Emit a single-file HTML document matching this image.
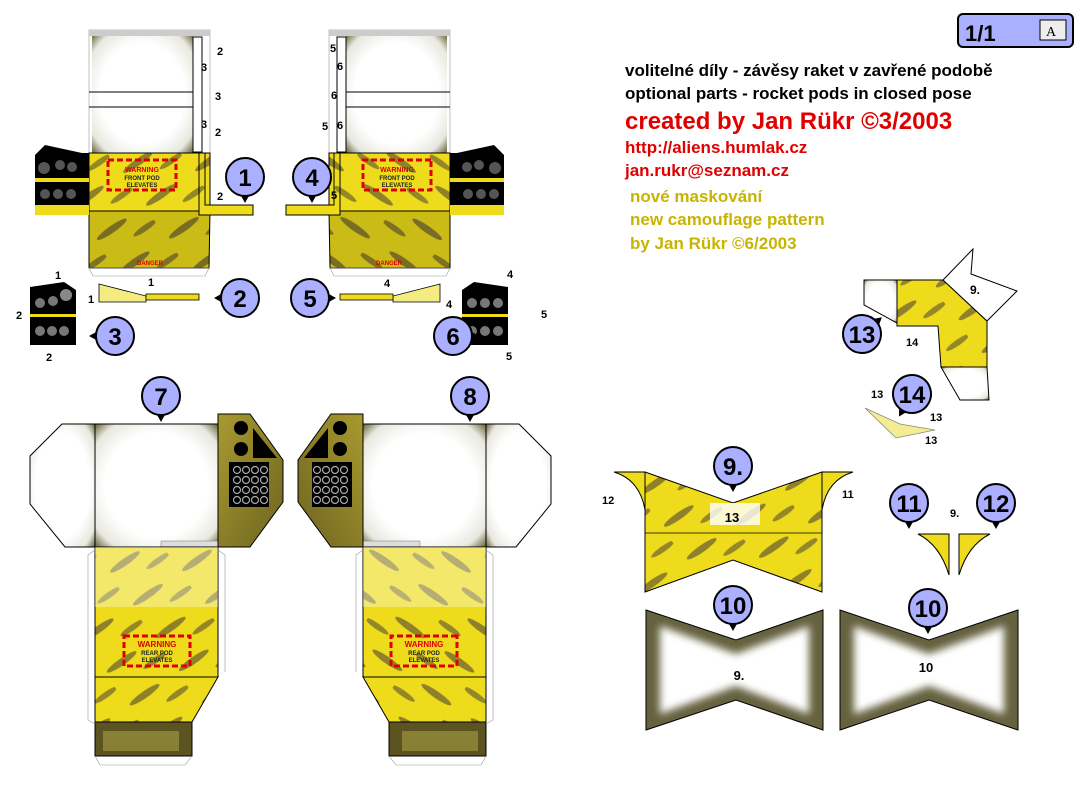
<!DOCTYPE html>
<html><head><meta charset="utf-8"><style>
html,body{margin:0;padding:0;background:#fff;}
svg{display:block;font-family:"Liberation Sans",sans-serif;}
.b{font-weight:bold;}
</style></head><body>
<svg width="1090" height="800" viewBox="0 0 1090 800" xmlns="http://www.w3.org/2000/svg">
<defs>
<pattern id="tg" width="60" height="40" patternUnits="userSpaceOnUse" patternTransform="rotate(-35)">
<rect width="60" height="40" fill="#eedc1c"/>
<ellipse cx="20" cy="12" rx="18" ry="3.5" fill="#756a2c" opacity="0.8"/>
<ellipse cx="48" cy="30" rx="14" ry="3" fill="#756a2c" opacity="0.75"/>
</pattern>
<filter id="bl" x="-10%" y="-10%" width="120%" height="120%"><feGaussianBlur stdDeviation="4"/></filter>
<radialGradient id="wh" cx="50%" cy="50%" r="70%">
<stop offset="0.6" stop-color="#fff"/><stop offset="0.85" stop-color="#e8e8e0"/><stop offset="1" stop-color="#6b6840"/>
</radialGradient>
<linearGradient id="ol" x1="0" y1="0" x2="1" y2="1">
<stop offset="0" stop-color="#a89a30"/><stop offset="1" stop-color="#6e6420"/>
</linearGradient>
<g id="badge"><path d="M-5,17 L0,26 L5,17Z" fill="#000"/><circle r="19" fill="#aab0ff" stroke="#000" stroke-width="2"/></g>

<g id="p1">
<rect x="89" y="30" width="121" height="125" fill="#fff" stroke="#999" stroke-width="0.6"/>
<rect x="92" y="34" width="101" height="119" fill="url(#wh)"/>
<rect x="89" y="30" width="121" height="6" fill="#ccc"/>
<line x1="89" y1="92" x2="193" y2="92" stroke="#000"/>
<line x1="89" y1="107" x2="193" y2="107" stroke="#000"/>
<rect x="193" y="37" width="9" height="115" fill="#fff" stroke="#000"/>
<rect x="89" y="153" width="121" height="58" fill="url(#tg)" stroke="#000"/>
<path d="M89,211 L210,211 L209,268 L89,268Z" fill="url(#tg)" stroke="#000"/>
<path d="M89,211 L210,211 L209,268 L89,268Z" fill="#000" opacity="0.15"/>
<rect x="108" y="160" width="68" height="30" fill="none" stroke="#d00" stroke-width="3" stroke-dasharray="6,3"/>
<path d="M35,155 L45,145 L82,153 L89,153 L89,215 L35,215Z" fill="#000"/>
<rect x="35" y="178" width="54" height="4" fill="#eedc1c"/>
<rect x="35" y="205" width="54" height="10" fill="#eedc1c"/>
<circle cx="44" cy="168" r="6" fill="#555"/><circle cx="60" cy="165" r="5" fill="#555"/><circle cx="72" cy="167" r="5" fill="#555"/>
<circle cx="45" cy="194" r="5" fill="#555"/><circle cx="58" cy="194" r="5" fill="#555"/><circle cx="71" cy="194" r="5" fill="#555"/>
<path d="M199,153 L205,153 L205,205 L253,205 L253,215 L199,215Z" fill="url(#tg)" stroke="#000"/>
<path d="M89,268 L209,268 L205,276 L93,276Z" fill="none" stroke="#999" stroke-width="0.6"/>
</g>

<g id="p7">
<path d="M95,424 L62,424 L30,456 L30,504 L65,547 L95,547Z" fill="url(#wh)" stroke="#000"/>
<rect x="95" y="424" width="123" height="123" fill="url(#wh)" stroke="#000"/>
<rect x="161" y="541" width="57" height="6" fill="#ddd" stroke="#777" stroke-width="0.5"/>
<path d="M218,414 L250,414 L283,460 L283,502 L250,547 L218,547Z" fill="url(#ol)" stroke="#000"/>
<rect x="229" y="462" width="40" height="45" fill="#000"/>
<circle cx="241" cy="428" r="7" fill="#000"/><circle cx="241" cy="449" r="7" fill="#000"/>
<path d="M253,428 L277,458 L253,458Z" fill="#000"/>
<g fill="none" stroke="#aaa" stroke-width="1.2">
<circle cx="237" cy="470" r="3.5"/><circle cx="246" cy="470" r="3.5"/><circle cx="255" cy="470" r="3.5"/><circle cx="264" cy="470" r="3.5"/>
<circle cx="237" cy="480" r="3.5"/><circle cx="246" cy="480" r="3.5"/><circle cx="255" cy="480" r="3.5"/><circle cx="264" cy="480" r="3.5"/>
<circle cx="237" cy="490" r="3.5"/><circle cx="246" cy="490" r="3.5"/><circle cx="255" cy="490" r="3.5"/><circle cx="264" cy="490" r="3.5"/>
<circle cx="237" cy="500" r="3.5"/><circle cx="246" cy="500" r="3.5"/><circle cx="255" cy="500" r="3.5"/><circle cx="264" cy="500" r="3.5"/>
</g>
<rect x="95" y="547" width="123" height="130" fill="url(#tg)" stroke="#000"/>
<rect x="95" y="547" width="123" height="60" fill="#fff" opacity="0.35"/>
<path d="M95,677 L218,677 L192,722 L95,722Z" fill="url(#tg)" stroke="#000"/>
<rect x="95" y="722" width="97" height="34" fill="#5c5420" stroke="#000"/>
<rect x="103" y="731" width="76" height="20" fill="#888034"/>
<rect x="124" y="636" width="66" height="30" fill="none" stroke="#d00" stroke-width="3" stroke-dasharray="6,3"/>
<g fill="none" stroke="#999" stroke-width="0.6">
<path d="M95,550 L88,555 L88,720 L95,724"/><path d="M218,550 L225,555 L225,672"/><path d="M95,756 L100,765 L185,765 L192,756"/>
</g>
</g>
</defs>

<use href="#p1"/>
<use href="#p1" transform="translate(539,0) scale(-1,1)"/>
<use href="#p7"/>
<use href="#p7" transform="translate(581,0) scale(-1,1)"/>

<!-- warning texts (unmirrored) -->
<g class="b" text-anchor="middle">
<text x="142" y="172" font-size="7" fill="#d00">WARNING</text>
<text x="142" y="180" font-size="6" fill="#222">FRONT POD</text>
<text x="142" y="187" font-size="6" fill="#222">ELEVATES</text>
<text x="150" y="265" font-size="6" fill="#d00">DANGER</text>
<text x="397" y="172" font-size="7" fill="#d00">WARNING</text>
<text x="397" y="180" font-size="6" fill="#222">FRONT POD</text>
<text x="397" y="187" font-size="6" fill="#222">ELEVATES</text>
<text x="389" y="265" font-size="6" fill="#d00">DANGER</text>
<text x="157" y="647" font-size="8" fill="#d00">WARNING</text>
<text x="157" y="655" font-size="6" fill="#222">REAR POD</text>
<text x="157" y="662" font-size="6" fill="#222">ELEVATES</text>
<text x="424" y="647" font-size="8" fill="#d00">WARNING</text>
<text x="424" y="655" font-size="6" fill="#222">REAR POD</text>
<text x="424" y="662" font-size="6" fill="#222">ELEVATES</text>
</g>

<!-- small pieces 2/5 -->
<path d="M99,284 L146,296 L146,302 L99,302Z" fill="#f4ec80" stroke="#000" stroke-width="0.8"/>
<rect x="146" y="294" width="53" height="6" fill="#eedc1c" stroke="#000" stroke-width="0.8"/>
<path d="M440,284 L393,296 L393,302 L440,302Z" fill="#f4ec80" stroke="#000" stroke-width="0.8"/>
<rect x="340" y="294" width="53" height="6" fill="#eedc1c" stroke="#000" stroke-width="0.8"/>
<!-- 3 / 6 -->
<path d="M30,287 L64,282 L76,290 L76,345 L30,345Z" fill="#000"/>
<rect x="30" y="314" width="46" height="3" fill="#eedc1c"/>
<circle cx="40" cy="303" r="5" fill="#777"/><circle cx="53" cy="301" r="5" fill="#777"/><circle cx="66" cy="295" r="6" fill="#888"/>
<circle cx="40" cy="331" r="5" fill="#777"/><circle cx="52" cy="331" r="5" fill="#777"/><circle cx="64" cy="331" r="5" fill="#777"/>
<path d="M462,290 L474,282 L508,287 L508,345 L462,345Z" fill="#000"/>
<rect x="462" y="314" width="46" height="3" fill="#eedc1c"/>
<circle cx="472" cy="303" r="5" fill="#777"/><circle cx="485" cy="303" r="5" fill="#777"/><circle cx="498" cy="303" r="5" fill="#777"/>
<circle cx="472" cy="331" r="5" fill="#777"/><circle cx="485" cy="331" r="5" fill="#777"/><circle cx="498" cy="331" r="5" fill="#777"/>

<!-- small number labels -->
<g font-size="11" class="b" fill="#000">
<text x="217" y="55">2</text><text x="201" y="71">3</text><text x="215" y="100">3</text><text x="201" y="128">3</text><text x="215" y="136">2</text><text x="217" y="200">2</text>
<text x="330" y="52">5</text><text x="337" y="70">6</text><text x="331" y="99">6</text><text x="322" y="130">5</text><text x="337" y="129">6</text><text x="331" y="199">5</text>
<text x="148" y="286">1</text><text x="88" y="303">1</text><text x="55" y="279">1</text><text x="16" y="319">2</text><text x="46" y="361">2</text>
<text x="384" y="287">4</text><text x="507" y="278">4</text><text x="446" y="308">4</text><text x="541" y="318">5</text><text x="506" y="360">5</text>
<text x="602" y="504">12</text><text x="842" y="498">11</text><text x="950" y="517">9.</text>
<text x="906" y="346">14</text><text x="871" y="398">13</text><text x="930" y="421">13</text><text x="925" y="444">13</text>
</g>

<!-- header -->
<rect x="958" y="14" width="115" height="33" rx="5" fill="#aab0ff" stroke="#000" stroke-width="2"/>
<text x="965" y="41" font-size="22" class="b">1/1</text>
<rect x="1040" y="20" width="26" height="20" fill="#eee" stroke="#000"/>
<text x="1046" y="36" font-size="14" font-family="Liberation Serif">A</text>
<g class="b">
<text x="625" y="76" font-size="17">volitelné díly - závěsy raket v zavřené podobě</text>
<text x="625" y="99" font-size="17">optional parts - rocket pods in closed pose</text>
<text x="625" y="129" font-size="24" fill="#e00000">created by Jan Rükr ©3/2003</text>
<text x="625" y="153" font-size="17" fill="#e00000">http://aliens.humlak.cz</text>
<text x="625" y="176" font-size="17" fill="#e00000">jan.rukr@seznam.cz</text>
<text x="630" y="202" font-size="17" fill="#c8b400">nové maskování</text>
<text x="630" y="225" font-size="17" fill="#c8b400">new camouflage pattern</text>
<text x="630" y="249" font-size="17" fill="#c8b400">by Jan Rükr ©6/2003</text>
</g>

<!-- part 13 -->
<path d="M864,280 L897,280 L897,323 L864,305Z" fill="url(#wh)" stroke="#000"/>
<path d="M897,280 L943,280 L987,321 L987,367 L941,367 L938,326 L897,326Z" fill="url(#tg)" stroke="#000"/>
<path d="M943,280 L973,249 L971,274 L1017,291 L987,321Z" fill="url(#wh)" stroke="#000"/>
<path d="M941,367 L987,367 L989,400 L960,400Z" fill="url(#wh)" stroke="#000"/>
<text x="970" y="294" font-size="12" class="b">9.</text>

<!-- part 14 -->
<path d="M865,408 L900,424 L935,430 L896,438Z" fill="#f4ec90" stroke="#888" stroke-width="0.8"/>

<!-- part 9 -->
<path d="M645,472 L733,503 L822,472 L822,592 L733,560 L645,592Z" fill="url(#tg)" stroke="#000"/>
<rect x="710" y="503" width="50" height="22" fill="#fff" opacity="0.8"/>
<text x="732" y="522" font-size="13" class="b" text-anchor="middle">13</text>
<line x1="645" y1="533" x2="822" y2="533" stroke="#000" stroke-width="0.7"/>
<path d="M614,472 L645,472 L645,510 Q640,480 614,472Z" fill="#eedc1c" stroke="#000"/>
<path d="M853,472 L822,472 L822,510 Q827,480 853,472Z" fill="#eedc1c" stroke="#000"/>
<!-- 11/12 -->
<path d="M918,534 L949,534 L949,575 Q940,545 918,534Z" fill="#eedc1c" stroke="#000"/>
<path d="M990,534 L959,534 L959,575 Q968,545 990,534Z" fill="#eedc1c" stroke="#000"/>

<!-- part 10 -->
<path d="M646,610 L736,640 L823,610 L823,730 L736,700 L646,730Z" fill="#666240" stroke="#000"/>
<path d="M660,626 L736,654 L809,626 L809,714 L736,686 L660,714Z" fill="#fff" filter="url(#bl)"/>
<path d="M840,610 L929,640 L1018,610 L1018,730 L929,700 L840,730Z" fill="#666240" stroke="#000"/>
<path d="M854,626 L929,654 L1004,626 L1004,714 L929,686 L854,714Z" fill="#fff" filter="url(#bl)"/>
<text x="739" y="680" font-size="13" class="b" text-anchor="middle">9.</text>
<text x="926" y="672" font-size="13" class="b" text-anchor="middle">10</text>

<!-- badges -->
<g font-size="24" class="b" text-anchor="middle">
<use href="#badge" transform="translate(245,177)"/><text x="245" y="186">1</text>
<use href="#badge" transform="translate(240,298) rotate(90)"/><text x="240" y="307">2</text>
<use href="#badge" transform="translate(115,336) rotate(90)"/><text x="115" y="345">3</text>
<use href="#badge" transform="translate(312,177)"/><text x="312" y="186">4</text>
<use href="#badge" transform="translate(310,298) rotate(-90)"/><text x="310" y="307">5</text>
<use href="#badge" transform="translate(453,336) rotate(-90)"/><text x="453" y="345">6</text>
<use href="#badge" transform="translate(161,396)"/><text x="161" y="405">7</text>
<use href="#badge" transform="translate(470,396)"/><text x="470" y="405">8</text>
<use href="#badge" transform="translate(733,466)"/><text x="733" y="475">9.</text>
<use href="#badge" transform="translate(733,605)"/><text x="733" y="614">10</text>
<use href="#badge" transform="translate(928,608)"/><text x="928" y="617">10</text>
<use href="#badge" transform="translate(909,503)"/><text x="909" y="512">11</text>
<use href="#badge" transform="translate(996,503)"/><text x="996" y="512">12</text>
<use href="#badge" transform="translate(862,334) rotate(-130)"/><text x="862" y="343">13</text>
<use href="#badge" transform="translate(912,394) rotate(30)"/><text x="912" y="403">14</text>
</g>
</svg>
</body></html>
